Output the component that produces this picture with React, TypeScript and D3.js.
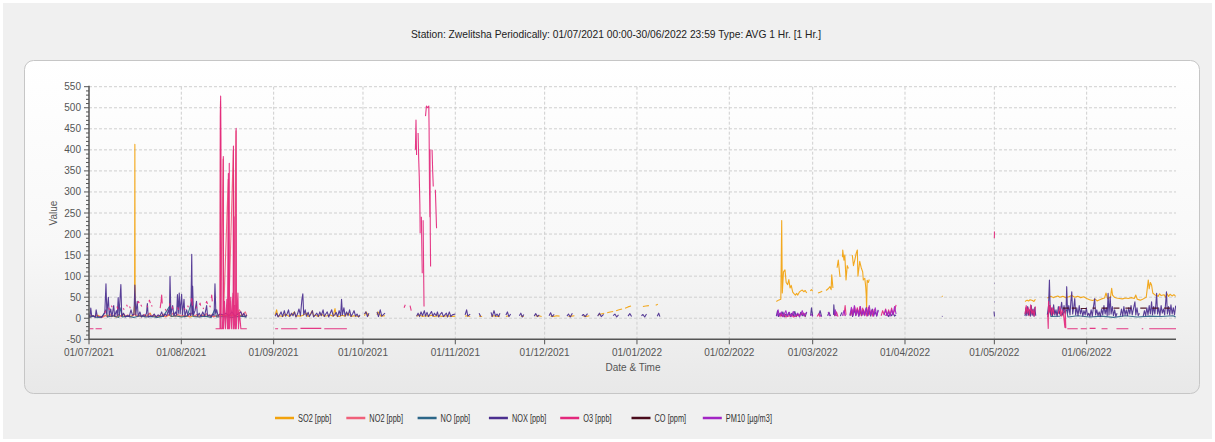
import React from "react";
import * as d3 from "d3";

// Each reading is [days since 01/07/2021 00:00, value]; a null value breaks the trace.
type Reading = [number, number | null];

const START = Date.UTC(2021, 6, 1);
const END = Date.UTC(2022, 6, 1);

const yTickValues = [-50, 0, 50, 100, 150, 200, 250, 300, 350, 400, 450, 500, 550];

const so2Readings: Reading[] = [
  [0, 5], [1, 6], [2, 4], [3, 7], [4, 3], [5, 5], [6, 8], [7, 4], [8, 6], [9, 3], [10, 5], [11, 7], [12, 4], [13, 6], [14, 5], [15, 8],
  [15.3, 30], [15.4, 413], [15.5, 20], [15.7, 6], [16.5, 5], [17.5, 4], [18.5, 6], [19.5, 5], [20.2, 10], [20.6, 12], [21, 4], [22, 5],
  [23, 3], [24, 6], [25, 4], [26, 5], [27, 7], [28, 4], [29, 6], [30, 5], [31, 4], [32, 6], [33, 5], [34, 3], [35, 6], [36, 4], [37, 5],
  [38, 7], [39, 4], [40, 6], [41, 5], [42, 4], [43, 6], [44, 8], [45, 6], [46, 7], [47, 5], [48, 8], [49, 6], [50, 5], [51, 7], [52, 4],
  [53, 6], [53.2, null],
  [62.5, 8], [63, 20], [63.4, 5], [64, 6], [65, 4], [66, 10], [67, 5], [68, 8], [69, 15], [69.4, 4], [70, 6], [71, 5], [72, 8], [73, 12],
  [73.5, 4], [74, 6], [75, 18], [75.4, 5], [76, 7], [77, 4], [78, 10], [79, 5], [80, 6], [81, 8], [82, 5], [82.6, 23], [83, 6], [84, 4],
  [85, 7], [86, 5], [87, 12], [88, 4], [89, 6], [90, 5], [91, 4], [91.4, null], [92.5, 6], [93, 15], [94, 5], [94.4, null],
  [96.7, 8], [97, 15], [98, 5], [99.4, 6], [99.6, null],
  [110, 5], [111, 8], [112, 4], [113, 6], [114, 5], [115, 7], [116, 4], [117, 6], [118, 5], [119, 4], [120, 6], [121, 5], [122, 4], [123, 5],
  [123.4, null], [126.3, 5], [127, 6], [128, 4], [128.4, null], [131, 5], [132, 4], [132.2, null], [135, 5], [136, 6], [137, 4], [138, 5],
  [138.4, null], [140, 4], [141, 6], [142, null], [145, 5], [146, 4], [147, null], [150, 5], [151, 6], [152, 4], [152.5, null],
  [155, 5], [156, 4], [157, 6], [158, 5], [158.5, null], [161, 4], [162, 5], [163, 6], [163.5, null], [166, 5], [167, 4], [168, 6],
  [168.5, null], [171, 8], [172, 10], [173, 12], [173.5, null], [174, 13], [175, 15], [176, 16], [176.5, null], [177, 18], [178, 20],
  [179, 22], [179.5, null], [180, 24], [181, 27], [182, 29], [182.5, null], [186, 28], [187, 29], [188, 30], [188.4, null],
  [190.3, 31], [191, 33], [191.3, null],
  [230.8, 40], [231.5, 43], [232.3, 45], [232.6, 232], [232.8, 60], [233.2, 110], [233.7, 115], [234.1, 85], [234.6, 80], [235, 92],
  [235.4, 72], [235.8, 78], [236.3, 62], [236.8, 58], [237.2, 55], [237.6, 59], [238, 55], [238.5, 62], [239, 65], [239.5, 67], [240, 63],
  [240.5, 66], [241, 60], [241.5, null], [242.2, 65], [242.6, 68], [243, 64], [243.4, null], [244.8, 60], [245.5, 62], [246.2, 64],
  [246.8, null], [247.5, 66], [248.2, 70], [248.8, 75], [249.2, 68], [249.4, 103], [249.8, 72], [250.4, null], [251.2, 120], [251.6, 138],
  [252, 110], [252.2, 98], [252.6, null], [253, 145], [253.1, 162], [253.5, 138], [253.8, 150], [254.2, 91], [254.6, 125], [255, 118],
  [255.4, null], [256.3, 150], [256.7, 125], [257.2, 140], [257.6, 154], [258, 162], [258.2, 100], [258.8, 135], [259.3, 120], [259.8, 110],
  [260, 91], [260.5, 95], [260.8, 75], [261, 53], [261.1, 20], [261.3, 90], [261.7, 85], [262, 92], [262.3, null],
  [286.4, 53], [286.6, 51], [286.7, null],
  [314.3, 40], [315, 43], [315.5, 41], [316, 44], [316.8, 42], [317.3, 40], [317.8, 45], [318.3, null], [321.8, 48], [322.3, 50], [323, 52],
  [323.8, 49], [324.5, 51], [325.3, 53], [326, 50], [327, 52], [328, 49], [329, 51], [330, 54], [331, 50], [332, 52], [333, 49], [334, 51],
  [335, 47], [336, 44], [337, 42], [338, 45], [338.5, 41], [339, 43], [340, 46], [341, 48], [341.5, 60], [342, 47], [343, 50], [343.4, 71],
  [343.7, 55], [344.3, 50], [345, 48], [346, 47], [347, 46], [348, 48], [349, 47], [350, 49], [351, 47], [351.5, 55], [352, 45], [353, 43],
  [354, 46], [355, 50], [355.7, 91], [356, 70], [356.4, 85], [356.8, 79], [357.2, 60], [358, 55], [359, 52], [359.5, 58], [360, 54],
  [361, 56], [361.5, 50], [362, 58], [362.5, 52], [363, 57], [363.7, 53], [364.3, 56], [364.9, 52],
];

const no2Readings: Reading[] = [
  [0.5, 2], [1.2, 6], [1.8, 3], [2.5, 8], [3.2, 3], [4, 5], [4.6, 2], [5.5, 7], [6.2, 3], [7, 10], [7.6, 4], [8.4, 8], [9.2, 3],
  [10, 9], [10.8, 4], [11.5, 11], [12.3, 5], [13, 8], [13.8, 3], [14.6, 6], [15.5, 10], [16.3, 4], [17, 8], [17.8, 3], [18.6, 9],
  [19.4, 4], [20.2, 12], [21, 5], [21.8, 8], [22.6, 3], [23.4, 7], [24.2, 4], [25, 10], [25.8, 3], [26.6, 9], [27.4, 5], [28.2, 12],
  [29, 4], [29.8, 10], [30.6, 5], [31.4, 8], [32.2, 3], [33, 7], [33.8, 4], [34.6, 13], [35.4, 5], [36.2, 9], [37, 3], [37.8, 8],
  [38.6, 4], [39.4, 11], [40.2, 5], [41, 8], [41.8, 3], [42.6, 6], [43.4, 3], [44, 10], [44.15, 515], [44.25, 10], [45.05, 378],
  [45.2, 12], [46.75, 330], [46.9, 8], [48.45, 400], [48.6, 10], [49.35, 445], [49.5, 8], [50.5, 20], [51.5, 8], [52.5, 15], [53, 6],
  [53.1, null],
  [314.4, 8], [315, 18], [315.6, 6], [316.3, 20], [317, 8], [317.7, 15], [318.1, null], [322, 8], [322.7, 22], [323.4, 6], [324.2, 18],
  [325, 8], [325.8, 15], [326.6, 5], [327.3, 14], [328, null],
];

const noReadings: Reading[] = [
  [0, 2], [1.5, 5], [3, 1], [4.5, 4], [5.7, 20], [6.2, 3], [8, 6], [10, 2], [10.7, 25], [11.2, 3], [13, 5], [15, 2], [17, 6], [19, 3],
  [21, 4], [23, 2], [25, 5], [27.2, 30], [27.6, 4], [29, 6], [31, 3], [33, 5], [34.5, 40], [34.9, 4], [37, 3], [39, 5], [41, 2],
  [42.3, 22], [42.8, 3], [45, 4], [48, 2], [51, 5], [53, 3], [53.1, null],
  [322, 3], [322.5, 30], [323, 4], [326, 5], [328.3, 20], [328.7, 3], [332, 6], [336, 3], [340, 5], [344, 2], [348, 6], [352, 3],
  [356, 5], [360, 4], [364, 6], [364.9, 3],
];

const noxReadings: Reading[] = [
  [0, 8], [0.3, 3], [0.6, 24], [0.9, 5], [1.5, 6], [2.1, 2], [2.4, 20], [2.8, 4], [3.5, 3], [4.2, 2], [4.8, 8], [5.3, 12], [5.7, 82],
  [6, 10], [6.5, 50], [6.8, 6], [7.3, 22], [7.7, 4], [8.3, 30], [8.6, 5], [9.2, 18], [9.5, 6], [9.8, 49], [10.1, 8], [10.7, 80], [11, 5],
  [11.6, 12], [12.2, 3], [12.9, 6], [13.5, 4], [14.1, 20], [14.6, 7], [15.1, 10], [15.4, 79], [15.7, 8], [16.2, 40], [16.5, 5],
  [17.1, 15], [17.6, 3], [18.2, 8], [18.8, 4], [19.3, 12], [19.6, 35], [19.9, 3], [20.6, 6], [21.2, 4], [21.9, 10], [22.5, 3], [23.2, 8],
  [23.8, 5], [24.4, 15], [24.9, 4], [25.5, 10], [26.1, 6], [26.7, 20], [27, 8], [27.2, 99], [27.5, 10], [28.1, 30], [28.5, 6], [29, 15],
  [29.4, 8], [29.7, 56], [30, 12], [30.3, 60], [30.6, 10], [31.1, 57], [31.4, 8], [31.9, 45], [32.2, 5], [32.8, 20], [33.2, 6],
  [33.8, 12], [34.2, 6], [34.5, 152], [34.7, 10], [34.8, 76], [35.1, 8], [35.6, 18], [36.1, 40], [36.4, 5], [37, 12], [37.6, 4],
  [38.2, 15], [38.8, 5], [39.5, 30], [39.8, 6], [40.4, 8], [41, 4], [41.6, 10], [42, 6], [42.3, 82], [42.6, 12], [42.9, 20], [43.3, 6],
  [44, 10], [45, 8], [46, 12], [47, 6], [48, 15], [49, 5], [50, 10], [51, 15], [51.5, 4], [52, 12], [52.5, 3], [53, 8], [53.2, null],
  [62.5, 5], [63, 12], [63.5, 3], [64, 8], [64.5, 15], [65, 4], [65.6, 18], [66, 5], [66.5, 10], [67, 20], [67.4, 4], [68, 12], [68.5, 6],
  [69, 15], [69.5, 3], [70, 10], [70.5, 22], [71, 6], [71.5, 45], [71.8, 58], [72.1, 8], [72.6, 20], [73, 5], [73.6, 14], [74, 4],
  [74.5, 10], [75, 18], [75.4, 3], [76, 8], [76.5, 12], [77, 4], [77.5, 15], [78, 6], [78.6, 20], [79, 4], [79.5, 10], [80, 15],
  [80.5, 3], [81, 12], [81.5, 20], [82, 5], [82.5, 8], [83, 14], [83.5, 4], [84, 18], [84.5, 6], [84.8, 45], [85.1, 8], [85.6, 25],
  [86, 5], [86.5, 15], [87, 6], [87.5, 20], [88, 4], [88.6, 12], [89, 18], [89.5, 5], [90, 10], [90.5, 3], [91, 8], [91.4, null],
  [92.5, 10], [93, 15], [93.5, 4], [94, 12], [94.4, null], [96.7, 15], [97.2, 4], [97.8, 20], [98.3, 5], [99.4, 12], [99.6, null],
  [110, 5], [110.5, 12], [111, 4], [111.5, 15], [112, 6], [112.6, 18], [113, 5], [113.5, 14], [114, 4], [114.5, 10], [115, 16],
  [115.5, 5], [116, 12], [116.6, 6], [117, 15], [117.4, 3], [118, 10], [118.5, 14], [119, 4], [119.5, 8], [120, 12], [120.4, 3],
  [121, 15], [121.5, 4], [122, 8], [123, 10], [123.4, null], [126.3, 8], [126.8, 20], [127.2, 5], [128, 10], [128.4, null], [131, 12],
  [131.5, 4], [132.2, null], [135, 14], [135.4, 4], [136, 18], [136.5, 5], [137, 10], [137.5, 4], [138, 12], [138.4, null], [140, 8],
  [140.5, 15], [141, 4], [141.6, 10], [142, null], [144.5, 6], [145, 12], [145.5, 3], [146, 9], [146.5, null], [149.5, 5], [150, 11],
  [150.6, 4], [151.2, 8], [151.8, null], [154.5, 6], [155, 13], [155.5, 4], [156.2, 9], [156.8, null], [160.5, 5], [161, 10], [161.6, 3],
  [162.3, 12], [162.8, null], [165.5, 6], [166, 9], [166.6, 4], [167.4, 11], [168, null], [170.8, 5], [171.4, 12], [172, 4], [172.8, 9],
  [173.4, null], [176, 6], [176.6, 10], [177.2, 3], [177.8, 8], [178.4, null], [181, 5], [181.6, 11], [182.2, 4], [182.6, null],
  [185.5, 6], [186, 9], [186.6, 3], [187.2, 10], [187.8, null], [190.8, 5], [191.3, 12], [191.7, 4], [191.8, null],
  [230.8, 5], [231.2, 18], [231.5, 4], [232, 12], [232.5, 6], [233, 15], [233.4, 3], [234, 10], [234.5, 5], [235, 14], [235.5, 4],
  [236, 12], [236.5, 6], [237, 16], [237.5, 4], [238, 10], [238.5, 5], [239, 14], [239.5, 6], [240, 12], [240.5, 4], [241, 15],
  [241.5, null], [242.3, 6], [242.6, 25], [243, 5], [243.4, null], [245, 8], [245.5, 18], [246, 4], [246.6, null], [248, 6], [248.5, 14],
  [249, 5], [249.5, null], [250, 8], [250.1, 32], [250.4, 6], [250.8, 12], [251.2, null], [252.3, 5], [252.8, 14], [253.2, null],
  [255.5, 6], [256, 18], [256.4, 4], [257, 20], [257.5, 6], [258, 22], [258.5, 5], [259, 16], [259.5, 6], [260, 20], [260.5, 8],
  [261, 25], [261.5, 6], [262, 18], [262.5, 5], [263, 22], [263.5, 8], [264, 15], [264.5, 5], [265, 20], [265.6, null], [267.5, 6],
  [268, 12], [268.5, 4], [269, 10], [269.5, 6], [270, 14], [270.5, 5], [271, 8], [271.2, null],
  [286.4, 4], [286.6, 5], [286.7, null],
  [303.9, 83], [304.05, 83], [304.1, null], [303.9, 39], [304.05, 39], [304.1, null], [303.9, 16], [304.05, 4], [304.1, null],
  [314.3, 5], [314.6, 25], [314.9, 6], [315.2, 28], [315.5, 8], [315.8, 20], [316.1, 5], [316.4, 30], [316.7, 7], [317, 22], [317.3, 5],
  [317.6, 26], [317.9, 6], [318.2, null], [321.8, 8], [322.2, 30], [322.5, 91], [322.8, 10], [323.1, 25], [323.5, 6], [323.9, 32],
  [324.3, 8], [324.7, 20], [325.1, 5], [325.5, 28], [325.9, 10], [326.3, 22], [326.6, 38], [327, 8], [327.4, 30], [327.8, 10],
  [328.1, 25], [328.3, 75], [328.6, 12], [329, 30], [329.4, 8], [329.7, 40], [330, 63], [330.3, 10], [330.7, 28], [331, 47], [331.3, 8],
  [331.7, 25], [332.1, 6], [332.5, 30], [332.9, 10], [333.3, 22], [333.7, 5], [334.1, 18], [334.5, 8], [334.9, 25], [335.3, 6],
  [335.7, 12], [336.1, 4], [336.5, 20], [336.9, 5], [337.3, 28], [337.7, 47], [338, 8], [338.4, 20], [338.8, 6], [339.2, 15], [339.6, 4],
  [340, 22], [340.4, 8], [340.8, 30], [341.2, 10], [341.6, 25], [341.9, 6], [342.2, 59], [342.5, 8], [342.9, 51], [343.2, 10],
  [343.6, 28], [344, 6], [344.4, 20], [344.8, 4], [345.2, 12], [345.5, null], [346.3, 6], [346.7, 22], [347.1, 5], [347.5, 28],
  [347.9, 8], [348.3, 20], [348.7, 6], [349.1, 25], [349.5, 10], [349.9, 30], [350.3, 8], [350.7, 22], [351.2, 39], [351.5, 8],
  [351.9, 25], [352.3, 6], [352.7, 12], [353, null], [354, 5], [354.4, 18], [354.8, 6], [355.2, 25], [355.6, 8], [356, 30], [356.4, 10],
  [356.8, 39], [357.1, 8], [357.5, 28], [357.9, 10], [358.2, 30], [358.5, 59], [358.8, 10], [359.2, 25], [359.6, 6], [360, 30],
  [360.4, 12], [360.8, 22], [361.2, 8], [361.5, 35], [361.8, 63], [362.1, 10], [362.5, 28], [362.9, 8], [363.3, 32], [363.7, 10],
  [364.1, 25], [364.5, 8], [364.9, 30],
];

const o3Readings: Reading[] = [
  [0.2, -25], [1.5, -25], [1.6, null], [2.2, -25], [4.3, -25], [4.4, null],
  [5.3, 12], [5.6, 18], [5.8, null], [6.6, 25], [6.9, 20], [7.1, null], [7.5, 30], [7.8, 26], [8, null], [9.4, 28], [9.7, 22], [9.9, null],
  [11.5, 24], [11.8, 20], [12, null], [12.6, 32], [12.9, 28], [13.1, null], [13.6, 28], [13.9, 24], [14.1, null], [16.3, 35], [16.6, 40],
  [16.9, 36], [17.1, null], [17.4, 32], [17.7, 28], [17.9, null], [19.5, 30], [19.7, 26], [19.9, null], [20.1, 40], [20.3, 43],
  [20.6, 36], [20.8, null], [21, 31], [21.2, 28], [21.4, null], [23.9, 24], [24.2, 40], [24.4, 55], [24.6, 35], [24.8, null], [25.6, 22],
  [25.9, 18], [26.1, null], [27, 30], [27.2, 36], [27.4, null], [27.9, 28], [28.2, 22], [28.4, null], [29.8, 26], [30.1, 20], [30.3, null],
  [32, 24], [32.3, 20], [32.5, null], [33.1, 30], [33.4, 26], [33.6, null], [34.3, 40], [34.5, 47], [34.7, 30], [34.9, null], [35.9, 28],
  [36.2, 24], [36.4, null], [37.1, 32], [37.3, 36], [37.5, 30], [37.7, null], [38.3, 25], [38.5, 22], [38.7, null], [39.3, 36], [39.5, 40],
  [39.8, 34], [40, null], [40.5, 30], [40.8, 26], [41, null], [41.1, 48], [41.2, 55], [41.4, 40], [41.6, null],
  [42.5, -25], [44, -25], [44.1, 480], [44.2, 528], [44.3, 424], [44.35, -25], [44.8, -25], [45, 30], [45.1, 384], [45.15, -25],
  [45.5, 40], [45.8, -25], [46.3, 45], [46.5, -25], [46.8, 344], [46.85, -25], [47, -25], [47.1, 368], [47.15, -25], [47.6, 50],
  [47.8, -25], [48.3, 60], [48.4, -25], [48.5, 409], [48.55, -25], [48.7, 241], [48.75, -25], [49, 30], [49.2, -25], [49.4, 451],
  [49.45, -25], [50, 60], [50.2, -25], [50.5, 15], [51, -25], [53, -25], [53.1, null],
  [62.5, -25], [63.5, -25], [63.6, null], [64.5, -25], [70, -25], [70.1, null], [71, -24], [78, -24], [78.1, null], [79, -25],
  [86.6, -25], [86.7, null],
  [105.8, 25], [106.2, 32], [106.5, null], [107.8, 30], [108.2, 18], [108.4, null],
  [109.6, 400], [109.8, 471], [110, 388], [110.2, null], [110.5, 440], [110.7, 380], [110.9, 336], [111.1, 270], [111.2, 202],
  [111.4, null], [111.6, 241], [111.8, 150], [111.9, 107], [112.1, null], [112.2, 233], [112.35, 120], [112.5, 28], [112.6, null],
  [113, 480], [113.3, 504], [113.7, 500], [114.1, 504], [114.2, 447], [114.35, 300], [114.45, 241], [114.5, 400], [114.6, 200],
  [114.7, 123], [114.8, null], [115.2, 400], [115.4, 350], [115.6, 313], [115.8, null], [116.3, 305], [116.5, 260], [116.7, 214],
  [116.8, null],
  [232, 3], [232.4, 12], [232.8, 4], [233.5, 10], [234, 3], [236, 8], [236.5, 3], [240, 12], [240.5, 4], [241.2, null], [244.5, 4],
  [245, 10], [245.5, 3], [246, null], [250.5, 5], [251, 15], [251.5, 4], [252, null], [253.5, 6], [253.9, 30], [254.2, 8], [254.6, null],
  [255.8, 6], [256.2, 22], [256.6, 10], [257.1, 28], [257.5, 8], [258, 25], [258.4, 10], [258.9, 28], [259.3, 6], [259.8, 24],
  [260.2, 8], [260.7, 20], [261.2, 5], [261.7, 26], [262.2, 8], [262.7, 18], [263.2, 5], [263.7, 22], [264.2, null], [266, 6],
  [266.5, 18], [267, 8], [267.5, 22], [268, 6], [268.5, 20], [269, 8], [269.5, 24], [270, 10], [270.6, 20], [271, 32], [271.1, null],
  [304, 190], [304.05, 206], [304.1, null],
  [314.3, 10], [314.7, 30], [315, 12], [315.4, 25], [315.8, 8], [316.2, 32], [316.6, 10], [317, 20], [317.4, 5], [317.8, 28],
  [318.1, null], [321.9, 10], [322.1, -24], [322.2, 40], [322.5, 15], [322.8, 30], [323.2, 8], [323.6, 25], [324, 10], [324.4, null],
  [325.5, 12], [326, 28], [326.4, 6], [326.8, 20], [327.2, 10], [327.7, -22], [327.8, 20], [328, -24], [328.1, null],
  [328.5, -25], [332, -25], [332.1, null], [333, -25], [335, -25], [335.1, null], [336, -24], [338, -24], [338.1, null], [340, -25],
  [342, -25], [342.1, null], [345, -25], [349, -25], [349.1, null], [353.5, -25], [354, -25], [354.1, null], [356, -25], [365, -25],
];

const coReadings: Reading[] = [
  [327, 24], [329, 24], [329.1, null], [330, 24], [331.5, 24], [331.6, null], [333, 23], [335, 23], [335.1, null], [337, 24], [338, 24],
  [338.1, null], [340, 24], [342, 24], [342.1, null], [344, 24], [346, 24], [346.1, null], [348, 24], [350, 24], [350.1, null],
  [353, 24], [355, 24], [355.1, null], [357, 24], [359, 24], [359.1, null], [361, 24], [363, 24], [363.1, null],
];

const pm10Readings: Reading[] = [
  [231, 5], [231.4, 20], [231.8, 6], [232.5, 15], [233, 4], [234, 18], [234.5, 5], [235.2, 14], [235.8, 4], [236.5, 16], [237, 5],
  [238, 12], [238.6, 3], [239.5, 18], [240, 6], [241, 14], [241.5, null], [242.5, 10], [243, 4], [243.4, null], [245.2, 12], [245.8, 4],
  [246.5, null], [248.2, 15], [248.7, 5], [249.3, null], [250.2, 8], [250.6, 20], [251, 5], [251.2, null], [253, 6], [253.5, 18],
  [254, 5], [254.5, null], [255.5, 8], [256, 26], [256.5, 6], [257, 30], [257.5, 8], [258, 20], [258.5, 5], [259, 28], [259.5, 8],
  [260, 18], [260.5, 6], [261, 24], [261.5, 6], [262, 30], [262.5, 8], [263, 20], [263.5, 5], [264, 25], [264.5, 6], [265, 18],
  [265.5, null], [267, 8], [267.5, 20], [268, 6], [268.5, 16], [269, 5], [269.5, 20], [270, 8], [270.5, 28], [271, 10], [271.2, null],
];

const seriesNames = ["SO2 [ppb]", "NO2 [ppb]", "NO [ppb]", "NOX [ppb]", "O3 [ppb]", "CO [ppm]", "PM10 [µg/m3]"];
const seriesReadings = [so2Readings, no2Readings, noReadings, noxReadings, o3Readings, coReadings, pm10Readings];
const seriesColors = ["#f2a20c", "#f0607a", "#2c6688", "#4b2f8f", "#e3287c", "#4a0c1c", "#a224c4"];

const titleText = "Station: Zwelitsha  Periodically: 01/07/2021 00:00-30/06/2022 23:59  Type: AVG 1 Hr. [1 Hr.]";

const W = 1215;
const H = 442;
const plot = { left: 89, right: 1176, top: 86.7, bottom: 339.3 };
const FONT = "'Liberation Sans', Arial, sans-serif";

export default function App() {
  const x = d3.scaleUtc().domain([new Date(START), new Date(END)]).range([plot.left, plot.right]);
  const y = d3.scaleLinear().domain([-50, 550]).range([plot.bottom, plot.top]);
  const at = (d: number) => new Date(START + d * 864e5);
  const line = d3
    .line<Reading>()
    .defined((r) => r[1] !== null)
    .x((r) => x(at(r[0])))
    .y((r) => y(r[1] as number));

  const months = d3.utcMonth.range(new Date(START), new Date(END));
  const fmt = d3.utcFormat("%d/%m/%Y");
  const minorTicks = d3.range(-50, 551, 10).filter((v) => v % 50 !== 0);

  return (
    <svg
      width={W}
      height={H}
      style={{ position: "absolute", left: 0, top: 0, fontFamily: FONT }}
    >
      <defs>
        <linearGradient id="panelFill" x1="0" y1="0" x2="0" y2="1">
          <stop offset="0" stopColor="#ffffff" />
          <stop offset="0.55" stopColor="#f8f8f8" />
          <stop offset="1" stopColor="#e8e8e8" />
        </linearGradient>
        <clipPath id="plotClip">
          <rect x={plot.left} y={plot.top - 2} width={plot.right - plot.left} height={plot.bottom - plot.top + 2} />
        </clipPath>
      </defs>
      <rect x={0} y={0} width={W} height={H} fill="#ffffff" />
      <rect x={3} y={3} width={W - 6} height={H - 6} fill="#f0f0f0" />

      <text x={616} y={38} textAnchor="middle" fontSize={10.5} fill="#222" textLength={410} lengthAdjust="spacingAndGlyphs">
        {titleText}
      </text>

      <rect x={24.5} y={60.5} width={1175} height={333} rx={9} fill="url(#panelFill)" stroke="#c6c6c6" />

      {/* grid */}
      <g stroke="#cfcfcf" strokeDasharray="3,2" strokeWidth={1}>
        {yTickValues.filter((v) => v > -50).map((v) => (
          <line key={"gy" + v} x1={plot.left} x2={plot.right} y1={y(v)} y2={y(v)} />
        ))}
        {months.slice(1).map((m) => (
          <line key={"gx" + m.getTime()} x1={x(m)} x2={x(m)} y1={plot.top} y2={plot.bottom} />
        ))}
      </g>

      {/* series */}
      <g clipPath="url(#plotClip)" fill="none" strokeWidth={1.1} strokeLinejoin="round">
        {seriesReadings.map((data, i) => (
          <path key={seriesNames[i]} d={line(data) ?? ""} stroke={seriesColors[i]} strokeOpacity={0.92} />
        ))}
      </g>

      {/* y axis */}
      <g stroke="#555" fill="none">
        <line x1={plot.left} x2={plot.left} y1={plot.top - 1} y2={plot.bottom} strokeWidth={1.5} />
        {yTickValues.map((v) => (
          <line key={"ty" + v} x1={plot.left - 5} x2={plot.left} y1={y(v)} y2={y(v)} />
        ))}
        {minorTicks.map((v) => (
          <line key={"my" + v} x1={plot.left - 3} x2={plot.left} y1={y(v)} y2={y(v)} />
        ))}
      </g>
      <g fontSize={10} fill="#555" textAnchor="end">
        {yTickValues.map((v) => (
          <text key={"ly" + v} x={plot.left - 8} y={y(v)} dy="0.35em">
            {v}
          </text>
        ))}
      </g>
      <text transform="translate(57,213) rotate(-90)" textAnchor="middle" fontSize={10} fill="#555">
        Value
      </text>

      {/* x axis */}
      <g stroke="#555" fill="none">
        <line x1={plot.left} x2={plot.right} y1={plot.bottom} y2={plot.bottom} strokeWidth={1.5} />
        {months.map((m) => (
          <line key={"tx" + m.getTime()} x1={x(m)} x2={x(m)} y1={plot.bottom} y2={plot.bottom + 5} />
        ))}
      </g>
      <g fontSize={10} fill="#555" textAnchor="middle">
        {months.map((m) => (
          <text key={"lx" + m.getTime()} x={x(m)} y={356}>
            {fmt(m)}
          </text>
        ))}
      </g>
      <text x={633} y={371} textAnchor="middle" fontSize={10} fill="#555">
        Date &amp; Time
      </text>

      {/* legend */}
      <g fontSize={10} fill="#333">
        {seriesNames.map((name, i) => {
          const lx = 275 + i * 71.3;
          return (
            <g key={"lg" + name}>
              <line x1={lx} x2={lx + 19} y1={418} y2={418} stroke={seriesColors[i]} strokeWidth={2.5} />
              <text transform={`translate(${lx + 23},421.5) scale(0.74,1)`}>{name}</text>
            </g>
          );
        })}
      </g>
    </svg>
  );
}
